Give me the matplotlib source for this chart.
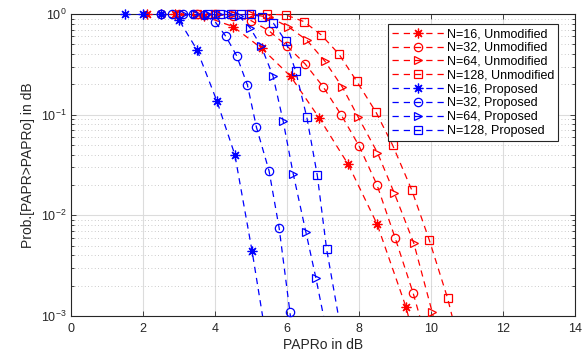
import matplotlib
matplotlib.use("Agg")
import matplotlib.pyplot as plt
from matplotlib.lines import Line2D
from matplotlib.ticker import LogLocator, NullFormatter
import numpy as np

plt.rcParams.update({
    "font.family": ["Liberation Sans", "DejaVu Sans"],
    "font.size": 8,
    "mathtext.fontset": "custom",
    "mathtext.rm": "Liberation Sans",
})

RED = "#FF0000"
BLUE = "#0000FF"

# ── Data (CCDF points) ──
red16_x = [2.1, 2.9, 3.7, 4.5, 5.3, 6.1, 6.9, 7.7, 8.5, 9.3, 10.1]
red16_y = [1.0, 0.99, 0.95, 0.75, 0.455, 0.24, 0.092, 0.032, 0.0082, 0.00124, 0.0001]

red32_x = [2.5, 3.0, 3.5, 4.0, 4.5, 5.0, 5.5, 6.0, 6.5, 7.0, 7.5, 8.0, 8.5, 9.0, 9.5, 10.0]
red32_y = [1.0, 1.0, 1.0, 0.99, 0.95, 0.86, 0.68, 0.48, 0.32, 0.19, 0.10, 0.049, 0.020, 0.006, 0.0017, 0.0004]

red64_x = [3.0, 3.5, 4.0, 4.5, 5.0, 5.5, 6.03, 6.55, 7.05, 7.54, 7.98, 8.51, 8.98, 9.52, 10.03, 10.5]
red64_y = [1.0, 1.0, 1.0, 1.0, 0.99, 0.93, 0.75, 0.55, 0.34, 0.187, 0.094, 0.042, 0.0166, 0.0053, 0.0011, 0.0002]

red128_x = [3.5, 4.0, 4.5, 4.95, 5.45, 5.96, 6.47, 6.95, 7.44, 7.93, 8.47, 8.93, 9.46, 9.95, 10.46, 10.95]
red128_y = [1.0, 1.0, 1.0, 1.0, 1.0, 0.98, 0.84, 0.62, 0.40, 0.216, 0.106, 0.05, 0.018, 0.0057, 0.0015, 0.0003]

blue16_x = [1.5, 2.0, 2.5, 3.0, 3.5, 4.05, 4.55, 5.03, 5.5]
blue16_y = [1.0, 1.0, 0.99, 0.87, 0.44, 0.137, 0.040, 0.0044, 0.0004]

blue32_x = [2.5, 2.8, 3.1, 3.4, 3.7, 4.0, 4.3, 4.6, 4.9, 5.15, 5.5, 5.78, 6.08, 6.4]
blue32_y = [1.0, 1.0, 1.0, 1.0, 0.97, 0.84, 0.60, 0.385, 0.197, 0.075, 0.0277, 0.0075, 0.0011, 0.0001]

blue64_x = [3.1, 3.45, 3.77, 4.07, 4.37, 4.67, 4.97, 5.28, 5.61, 5.89, 6.17, 6.52, 6.80, 7.1]
blue64_y = [1.0, 1.0, 1.0, 1.0, 0.99, 0.95, 0.73, 0.48, 0.242, 0.087, 0.026, 0.0069, 0.0024, 0.0007]

blue128_x = [3.8, 4.13, 4.43, 4.71, 5.0, 5.31, 5.62, 5.96, 6.24, 6.55, 6.84, 7.10, 7.45]
blue128_y = [1.0, 1.0, 1.0, 1.0, 0.99, 0.94, 0.81, 0.54, 0.27, 0.094, 0.025, 0.0046, 0.0009]

ASTER = (8, 2, 0)  # MATLAB-style asterisk

series = [
    (red16_x, red16_y, RED, ASTER, "N=16, Unmodified"),
    (red32_x, red32_y, RED, "o", "N=32, Unmodified"),
    (red64_x, red64_y, RED, ">", "N=64, Unmodified"),
    (red128_x, red128_y, RED, "s", "N=128, Unmodified"),
    (blue16_x, blue16_y, BLUE, ASTER, "N=16, Proposed"),
    (blue32_x, blue32_y, BLUE, "o", "N=32, Proposed"),
    (blue64_x, blue64_y, BLUE, ">", "N=64, Proposed"),
    (blue128_x, blue128_y, BLUE, "s", "N=128, Proposed"),
]

fig = plt.figure(figsize=(5.85, 3.56), dpi=100)
fig.set_facecolor("white")
ax = fig.add_axes([0.1214, 0.1124, 0.8616, 0.8483])

YMIN, YMAX = 1e-3, 1.0


def msize(mk):
    if mk == ASTER:
        return 7
    return {"o": 6, ">": 6, "s": 5.5}[mk]


handles = []
for x, y, color, mk, label in series:
    x = np.asarray(x)
    y = np.asarray(y)
    ax.plot(x, y, color=color, lw=0.9, ls=(0, (5, 4)), zorder=3)
    m = y >= YMIN
    ax.plot(x[m], y[m], ls="none", marker=mk, ms=msize(mk), mfc="none",
            mec=color, mew=0.9, clip_on=False, zorder=4)
    handles.append(Line2D([0], [0], color=color, lw=0.9, ls=(0, (5, 4)),
                          marker=mk, ms=msize(mk), mfc="none", mec=color,
                          mew=0.9, label=label))

ax.set_yscale("log")
ax.set_xlim(0, 14)
ax.set_ylim(YMIN, YMAX)
ax.set_xticks(np.arange(0, 15, 2))
ax.yaxis.set_major_locator(LogLocator(base=10, numticks=10))
ax.yaxis.set_minor_locator(LogLocator(base=10, subs=np.arange(2, 10), numticks=10))
ax.yaxis.set_minor_formatter(NullFormatter())

ax.grid(True, which="major", color="#DCDCDC", lw=0.8, ls="-")
ax.grid(True, which="minor", axis="y", color="#BBBBBB", lw=0.6, ls=(0, (1, 3)))
ax.set_axisbelow(True)

ax.tick_params(which="both", direction="in", top=True, right=True,
               colors="#262626", labelsize=9, width=0.6)
ax.tick_params(which="major", length=3.5)
ax.tick_params(which="minor", length=2)
ax.tick_params(axis="x", pad=5)
for sp in ax.spines.values():
    sp.set_color("#262626")
    sp.set_linewidth(0.8)

ax.set_xlabel("PAPRo in dB", fontsize=10, color="#262626", labelpad=2)
ax.set_ylabel("Prob.[PAPR>PAPRo] in dB", fontsize=10, color="#262626", labelpad=4)

leg = ax.legend(handles=handles, loc="upper right", bbox_to_anchor=(0.966, 0.966),
                fontsize=9, frameon=True, fancybox=False, edgecolor="#262626",
                facecolor="white", framealpha=1, handlelength=4.2,
                handletextpad=0.2, labelspacing=0.15, borderpad=0.3,
                borderaxespad=0)
leg.get_frame().set_linewidth(0.8)

fig.savefig("out.png", dpi=100)
